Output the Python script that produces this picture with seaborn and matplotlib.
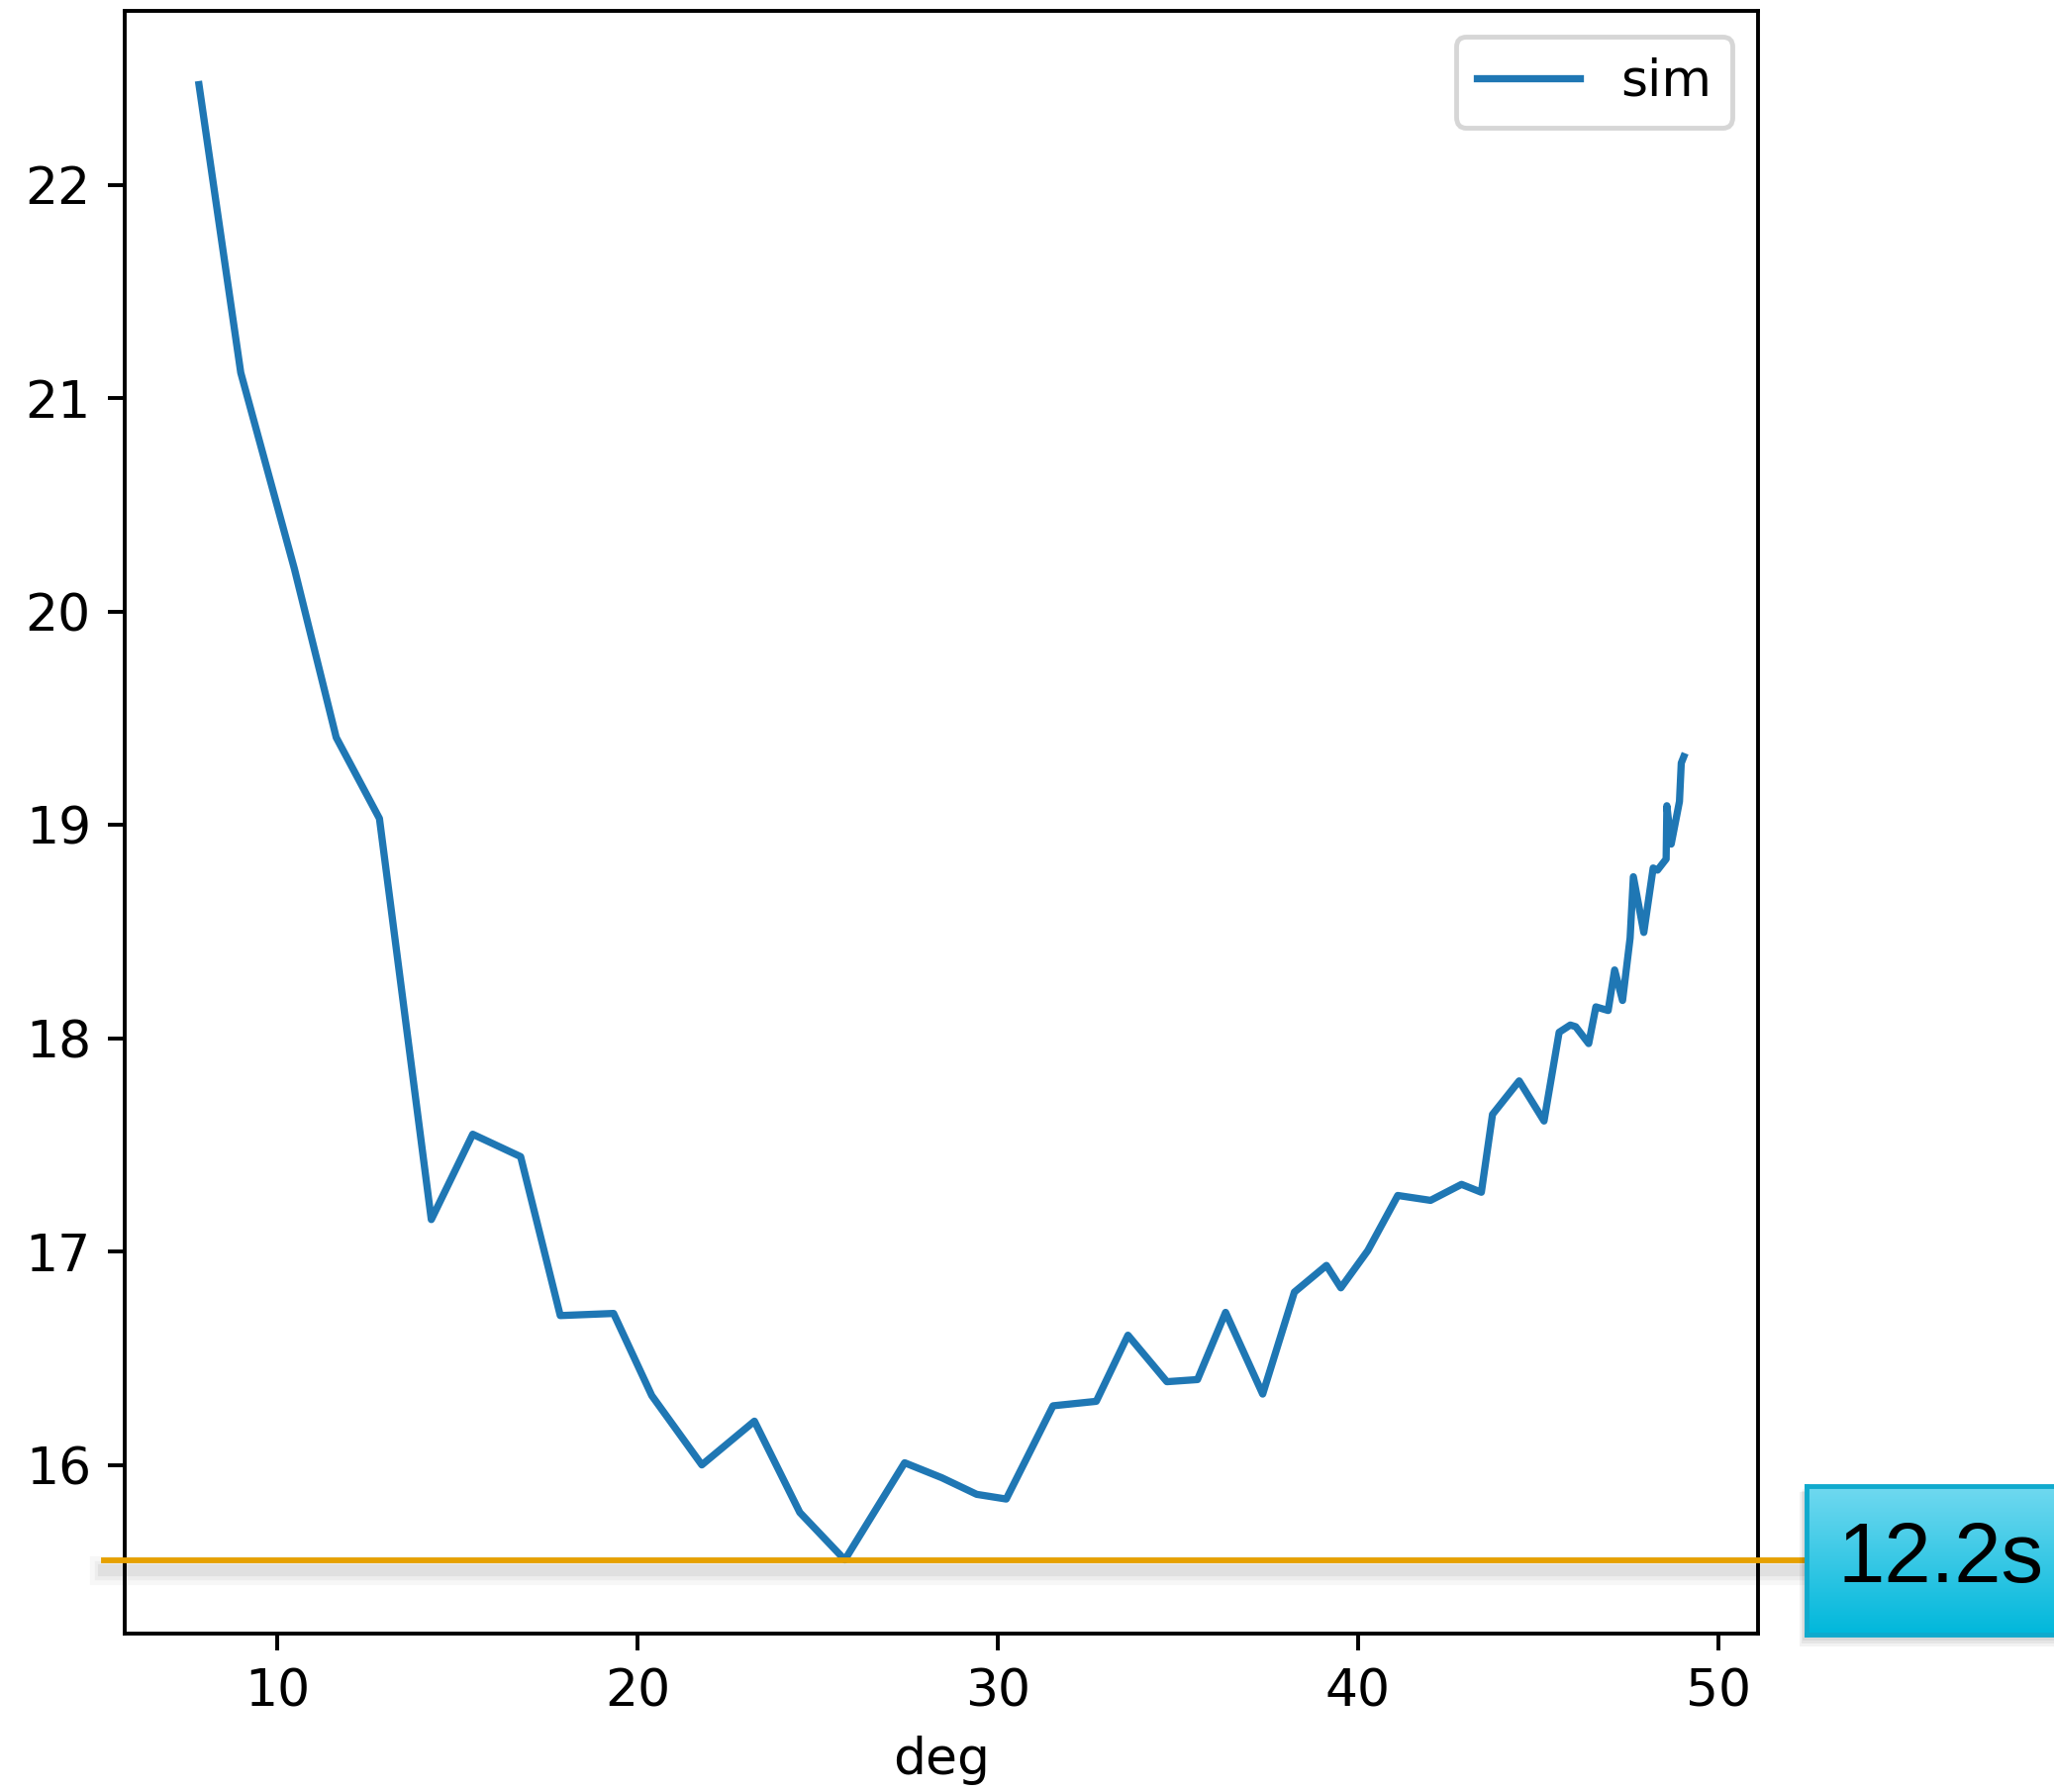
import numpy as np
import pandas as pd
import matplotlib
matplotlib.use("Agg")
import matplotlib.pyplot as plt
import matplotlib.patheffects as pe
from matplotlib.lines import Line2D
from matplotlib.patches import Rectangle
from matplotlib.transforms import blended_transform_factory
import seaborn as sns

# simulated timing vs. angle
deg = [7.82, 8.98, 10.47, 11.63, 12.83, 14.27, 15.42, 16.75, 17.85, 19.33,
       20.39, 21.78, 23.24, 24.50, 25.75, 27.41, 28.44, 29.41, 30.23, 31.53,
       32.73, 33.61, 34.69, 35.54, 36.32, 37.35, 38.23, 39.12, 39.52, 40.27,
       41.10, 42.01, 42.87, 43.42, 43.73, 44.47, 45.16, 45.58, 45.89, 46.04,
       46.40, 46.60, 46.94, 47.12, 47.34, 47.55, 47.64, 47.93, 48.19, 48.31,
       48.55, 48.57, 48.69, 48.92, 48.97, 49.04]
sim = [22.47, 21.12, 20.20, 19.41, 19.03, 17.15, 17.55, 17.445, 16.70, 16.71,
       16.325, 16.00, 16.205, 15.777, 15.555, 16.01, 15.94, 15.862, 15.84, 16.277,
       16.298, 16.608, 16.39, 16.40, 16.715, 16.332, 16.81, 16.935, 16.83, 17.005,
       17.263, 17.24, 17.315, 17.278, 17.643, 17.80, 17.612, 18.028, 18.062, 18.054,
       17.975, 18.147, 18.13, 18.32, 18.177, 18.47, 18.757, 18.496, 18.798, 18.788,
       18.84, 19.09, 18.91, 19.11, 19.29, 19.32]
badge_text = "12.2s"

df = pd.DataFrame({"deg": deg, "sim": sim})

plt.rcParams["font.size"] = 10.7

DPI = 350
W, H = 2075, 1810
fig = plt.figure(figsize=(W / DPI, H / DPI), dpi=DPI)
ax = fig.add_axes([126 / W, (H - 1650) / H, 1650 / W, 1639 / H])

sns.lineplot(data=df, x="deg", y="sim", ax=ax, label="sim", color="#1f77b4", linewidth=1.5)
ax.set_ylabel("")
ax.set_xlabel("deg")
ax.legend(loc="upper right")

# horizontal marker at the minimum, running out to the badge
level = min(sim)
trans = blended_transform_factory(fig.transFigure, ax.transData)
shadow = [pe.SimpleLineShadow(offset=(0, -2.2), shadow_color="black", alpha=a, linewidth=w)
          for w, a in [(6.0, 0.03), (4.0, 0.04), (2.5, 0.05)]]
marker = Line2D([105 / W, 1826 / W], [level, level], transform=trans,
                color="#E6A000", linewidth=1.2, clip_on=False, zorder=5,
                path_effects=shadow + [pe.Normal()])
fig.add_artist(marker)

# badge with soft drop shadow
bx, by, bw, bh = 1825, H - 1651, 270, 150
for i, a in enumerate([0.05, 0.05, 0.05, 0.05]):
    d = 3 + 3 * i
    fig.add_artist(Rectangle(((bx - d * 0.6) / W, (by - d) / H), (bw + d) / W, (bh + d * 0.5) / H,
                             transform=fig.transFigure, facecolor="black", alpha=a,
                             edgecolor="none", zorder=8))
bax = fig.add_axes([bx / W, by / H, bw / W, bh / H], zorder=10)
top = np.array([0.44, 0.85, 0.94])
bot = np.array([0.00, 0.72, 0.86])
t = np.linspace(0, 1, 256)[:, None, None]
grad = top * (1 - t) + bot * t
bax.imshow(grad, extent=[0, 1, 0, 1], aspect="auto", origin="upper", interpolation="bilinear")
bax.set_xlim(0, 1)
bax.set_ylim(0, 1)
bax.set_xticks([])
bax.set_yticks([])
for s in bax.spines.values():
    s.set_color("#10AACD")
    s.set_linewidth(1.0)
bax.text(32 / bw, 0.5, badge_text, ha="left", va="center", fontsize=17.5,
         family=["Liberation Sans", "DejaVu Sans"], color="black")

fig.savefig("out.png", dpi=DPI)
